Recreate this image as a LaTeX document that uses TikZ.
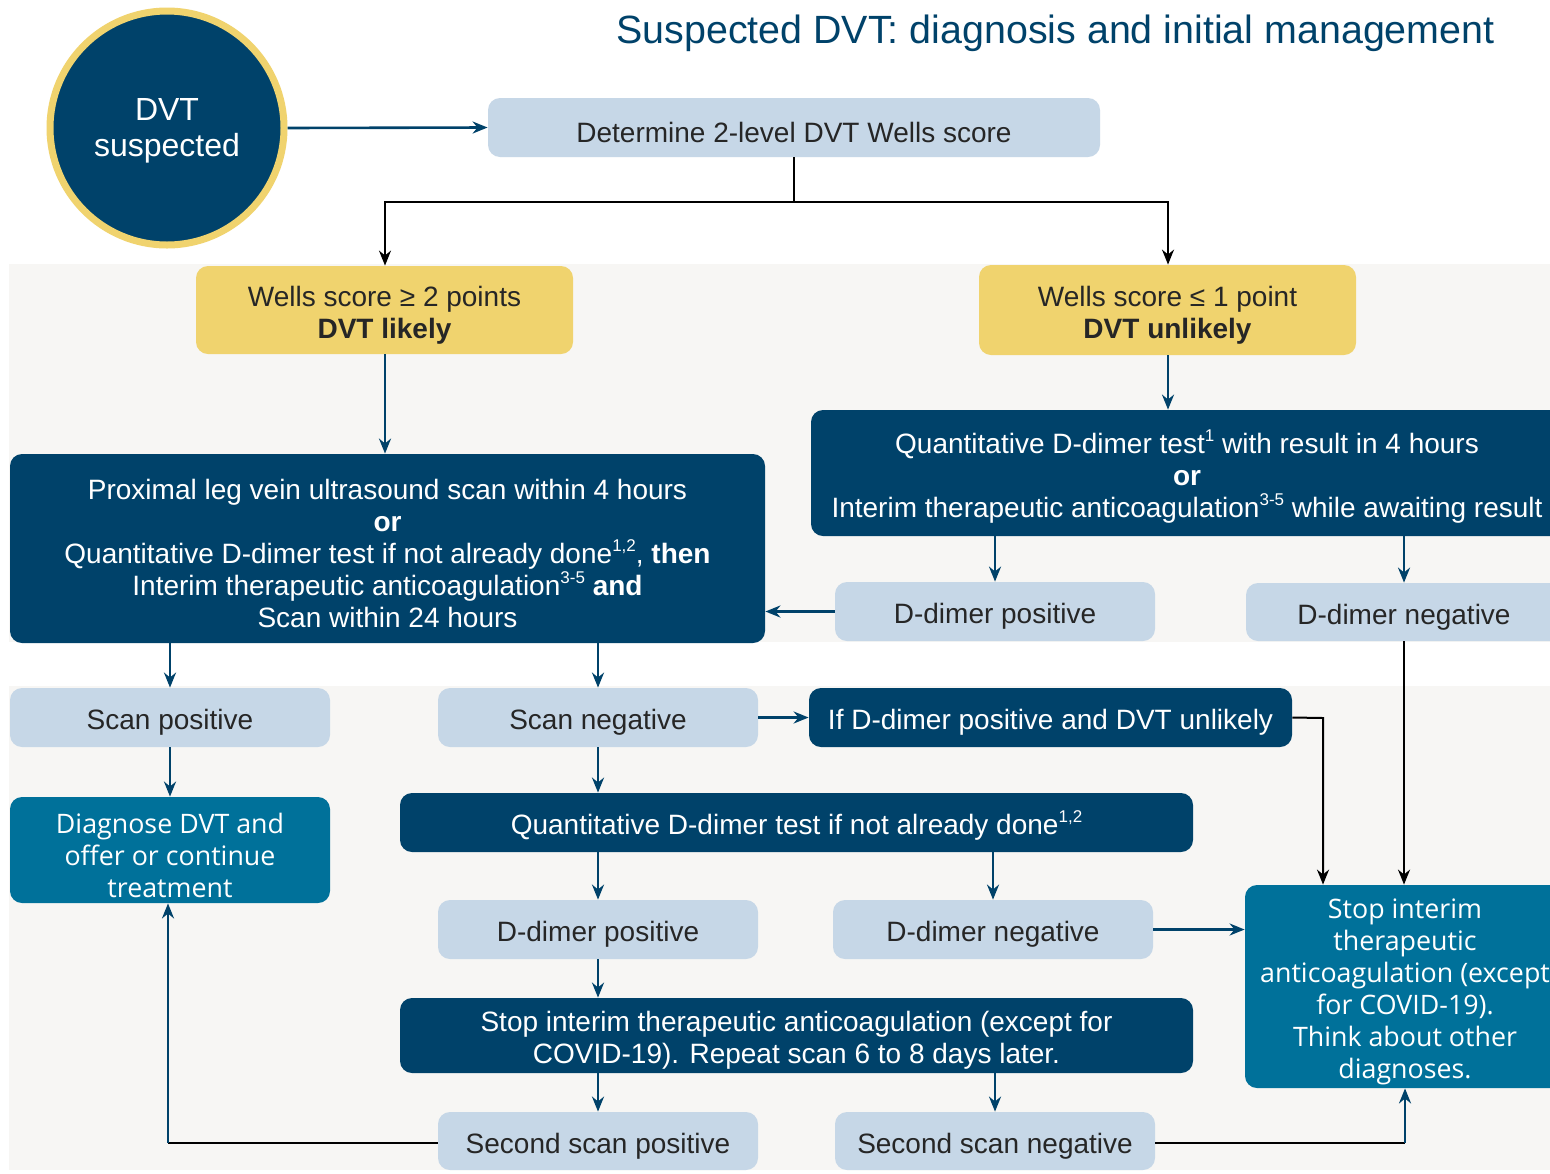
\documentclass[tikz,border=0pt]{standalone}
\usepackage{fontspec}
\setmainfont{Liberation Sans}
\newfontfamily\tealfont{Open Sans}
\usetikzlibrary{arrows.meta,calc}
\definecolor{navy}{HTML}{00426A}
\definecolor{teal}{HTML}{00719A}
\definecolor{lightb}{HTML}{C6D7E7}
\definecolor{yel}{HTML}{F0D36E}
\definecolor{band}{HTML}{F7F6F4}
\definecolor{txt}{HTML}{262626}
\newcommand\sups[1]{\raisebox{0.42em}[0pt][0pt]{\fontsize{8.5}{9}\selectfont #1}}
\newcommand\bx[7]{%
  \node[#2, minimum width={(#5-#3)*0.5pt}, minimum height={(#6-#4)*0.5pt}] (#1) at ({(#3+#5)/2},{(#4+#6)/2}) {};
  \node[#2, fill=none, yshift=-2.5pt] (#1t) at (#1) {#7};}
\tikzset{
  base/.style={rounded corners=6pt, inner sep=0pt, align=center, font=\fontsize{14}{16}\selectfont},
  lb/.style={base, fill=lightb, text=txt},
  yb/.style={base, fill=yel, text=txt},
  db/.style={base, fill=navy, text=white},
  tb/.style={base, fill=teal, text=white, font=\tealfont\fontsize{13.4}{16}\selectfont},
  narr/.style={draw=navy, line width=1.3pt, -{Stealth[length=7.5pt,width=6pt]}},
  nline/.style={draw=navy, line width=1.3pt},
  barr/.style={draw=black, line width=1pt, -{Stealth[length=7.5pt,width=6pt]}},
  bline/.style={draw=black, line width=1pt},
}
\begin{document}
\begin{tikzpicture}[x=0.5pt,y=-0.5pt]
\useasboundingbox (0,0) rectangle (1550,1173);
\clip (0,0) rectangle (1550,1173);
\fill[white] (0,0) rectangle (1550,1173);
\fill[band] (9,264) rectangle (1550,642);
\fill[band] (9,686) rectangle (1550,1170);
% title
\node[anchor=east, text=navy, font=\fontsize{19.7}{22}\selectfont, inner sep=0pt] (title) at (1495,33) {Suspected DVT: diagnosis and initial management};
% circle
\node[circle, fill=navy, draw=yel, line width=3.5pt, minimum size=117pt, inner sep=0pt] (circ) at (167,128) {};
\node[text=white, align=center, font=\fontsize{16}{18}\selectfont, inner sep=0pt, yshift=-1.5pt] (circt) at (circ) {DVT\\suspected};
% boxes
\bx{det}{lb}{488}{98}{1100}{157}{Determine 2-level DVT Wells score}
\bx{wl}{yb}{196}{266}{573}{354}{Wells score ≥ 2 points\\\textbf{DVT likely}}
\bx{wr}{yb}{979}{265}{1356}{355}{Wells score ≤ 1 point\\\textbf{DVT unlikely}}
\bx{pl}{db}{10}{454}{765}{643}{Proximal leg vein ultrasound scan within 4 hours\\\textbf{or}\\Quantitative D-dimer test if not already done\sups{1,2}, \textbf{then}\\Interim therapeutic anticoagulation\sups{3-5} \textbf{and}\\Scan within 24 hours}
\bx{qr}{db}{811}{410}{1563}{536}{Quantitative D-dimer test\sups{1} with result in 4 hours\\\textbf{or}\\Interim therapeutic anticoagulation\sups{3-5} while awaiting result}
\bx{dpa}{lb}{835}{582}{1155}{641}{D-dimer positive}
\bx{dna}{lb}{1246}{583}{1562}{641}{D-dimer negative}
\bx{spos}{lb}{10}{688}{330}{747}{Scan positive}
\bx{sneg}{lb}{438}{688}{758}{747}{Scan negative}
\bx{ifd}{db}{809}{688}{1292}{747}{If D-dimer positive and DVT unlikely}
\bx{diag}{tb}{10}{797}{330}{903}{Diagnose DVT and\\offer or continue\\treatment}
\bx{qd}{db}{400}{793}{1193}{852}{Quantitative D-dimer test if not already done\sups{1,2}}
\bx{dpb}{lb}{438}{900}{758}{959}{D-dimer positive}
\bx{dnb}{lb}{833}{900}{1153}{959}{D-dimer negative}
\bx{stopr}{db}{400}{998}{1193}{1073}{Stop interim therapeutic anticoagulation (except for\\COVID-19). Repeat scan 6 to 8 days later.}
\bx{ssp}{lb}{438}{1112}{758}{1170}{Second scan positive}
\bx{ssn}{lb}{835}{1112}{1155}{1170}{Second scan negative}
\bx{stop}{tb}{1245}{885}{1565}{1088}{Stop interim\\therapeutic\\anticoagulation (except\\for COVID-19).\\Think about other\\diagnoses.}
% connectors
\coordinate (jL) at (385,202);
\coordinate (jR) at (1168,202);
\draw[narr] (circ.east) -- (det.west);
\draw[bline] (det.south) -- (det.south |- jL);
\draw[barr] (jR) -- (jL) -- (jL |- wl.north);
\draw[barr] (jL) -- (jR) -- (jR |- wr.north);
\draw[narr] (wl.south -| jL) -- (jL |- pl.north);
\draw[narr] (wr.south -| jR) -- (jR |- qr.north);
\draw[narr] (dpa.north |- qr.south) -- (dpa.north);
\draw[narr] (dna.north |- qr.south) -- (dna.north);
\draw[narr] (dpa.west) -- (dpa.west -| pl.east);
\draw[barr] (dna.south) -- (dna.south |- stop.north);
\draw[narr] (spos.north |- pl.south) -- (spos.north);
\draw[narr] (sneg.north |- pl.south) -- (sneg.north);
\draw[narr] (sneg.east) -- (ifd.west);
\coordinate (ifc) at (1323,718);
\draw[barr] (ifd.east) -- (ifc) -- (ifc |- stop.north);
\draw[narr] (spos.south) -- (diag.north);
\draw[narr] (sneg.south) -- (sneg.south |- qd.north);
\draw[narr] (dpb.north |- qd.south) -- (dpb.north);
\draw[narr] (dnb.north |- qd.south) -- (dnb.north);
\draw[narr] (dnb.east) -- (dnb.east -| stop.west);
\draw[narr] (dpb.south) -- (dpb.south |- stopr.north);
\draw[narr] (ssp.north |- stopr.south) -- (ssp.north);
\draw[narr] (ssn.north |- stopr.south) -- (ssn.north);
\coordinate (cl) at (168,1143);
\coordinate (cr) at (1405,1143);
\draw[bline] (ssp.west |- cl) -- (cl);
\draw[narr] (cl) -- (cl |- diag.south);
\draw[bline] (ssn.east |- cr) -- (cr);
\draw[narr] (cr) -- (cr |- stop.south);
\end{tikzpicture}
\end{document}
